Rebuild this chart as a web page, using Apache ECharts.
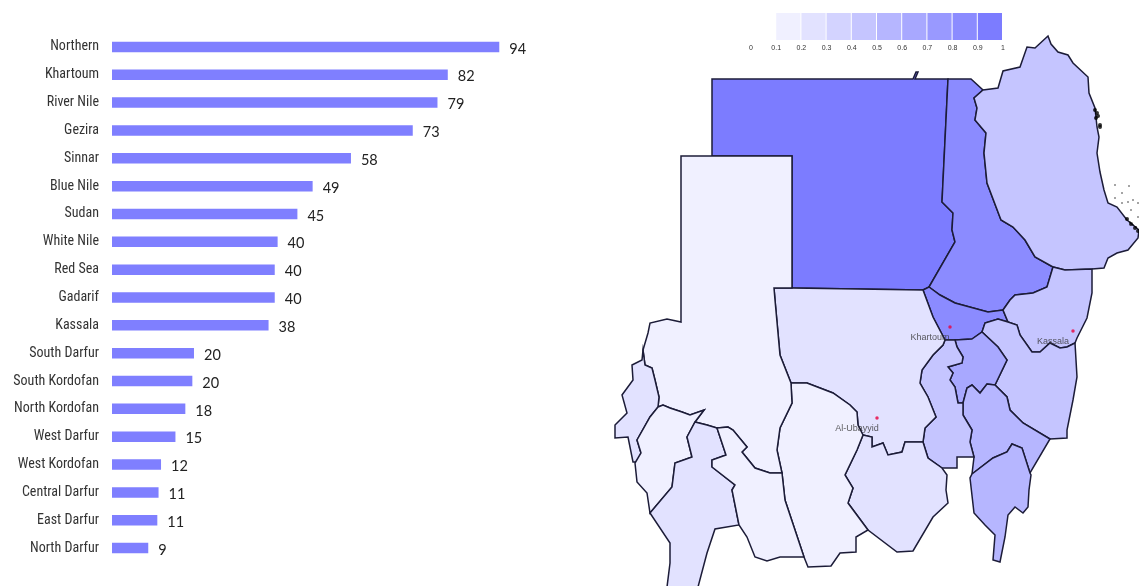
<!DOCTYPE html>
<html><head><meta charset="utf-8">
<style>html,body{margin:0;padding:0;background:#fff}#c{width:1139px;height:586px}</style>
<script src="https://cdn.jsdelivr.net/npm/echarts@6/dist/echarts.min.js"></script>
</head><body><div id="c"></div>
<script>
// Bar chart
const categories = ['Northern','Khartoum','River Nile','Gezira','Sinnar','Blue Nile','Sudan','White Nile','Red Sea','Gadarif','Kassala','South Darfur','South Kordofan','North Kordofan','West Darfur','West Kordofan','Central Darfur','East Darfur','North Darfur'];
const barValues = [94,81.5,79,73,58,48.7,45,40.2,39.5,39.5,38,19.9,19.5,17.8,15.4,11.9,11.3,11,8.8];
// Map legend
const legendTicks = [0,0.1,0.2,0.3,0.4,0.5,0.6,0.7,0.8,0.9,1];
const legendLows = [0.1,0.2,0.3,0.4,0.5,0.6,0.7,0.8,0.9];
const legendColors = ['#f0f0ff','#e2e2ff','#d3d3ff','#c5c5ff','#b6b6ff','#a8a8ff','#9999ff','#8b8bff','#7c7cff'];
// Map regions: value estimated from each region's shade
const regionNames = ['Northern','River Nile','Red Sea','Khartoum','Kassala','Gadarif','Gezira','Sennar','Blue Nile','White Nile','North Kordofan','South Kordofan','West Kordofan','North Darfur','West Darfur','Central Darfur','South Darfur','East Darfur'];
const regionValues = [0.95,0.85,0.45,0.85,0.45,0.45,0.65,0.55,0.5,0.45,0.25,0.25,0.15,0.15,0.25,0.15,0.25,0.15];
// Region outlines
const outlines = {
 'Northern':[[712,79],[913,79],[916,72],[918,72],[915,79],[948,79],[942,202],[953,213],[952,230],[955,242],[929,287],[923,290],[792,288],[792,156],[712,156]],
 'River Nile':[[948,79],[971,79],[983,90],[974,98],[977,108],[975,120],[986,133],[984,153],[987,183],[1001,220],[1013,227],[1025,240],[1035,257],[1053,267],[1047,287],[1033,293],[1015,295],[1010,300],[1003,310],[988,312],[955,303],[940,295],[929,287],[955,242],[952,230],[953,213],[942,202]],
 'Red Sea':[[983,90],[998,88],[1003,71],[1020,67],[1027,47],[1035,48],[1048,36],[1051,44],[1058,52],[1068,55],[1073,63],[1088,77],[1089,93],[1095,108],[1097,127],[1099,137],[1097,153],[1100,172],[1104,190],[1108,203],[1117,207],[1127,220],[1139,230],[1138,238],[1128,250],[1117,253],[1108,258],[1104,268],[1092,269],[1065,270],[1053,267],[1035,257],[1025,240],[1013,227],[1001,220],[987,183],[984,153],[986,133],[975,120],[977,108],[974,98]],
 'Khartoum':[[923,290],[929,287],[940,295],[955,303],[988,312],[1003,310],[1008,322],[998,319],[985,323],[982,332],[972,339],[955,340],[945,340],[933,317]],
 'Kassala':[[1003,310],[1010,300],[1015,295],[1033,293],[1047,287],[1053,267],[1065,270],[1092,269],[1092,293],[1087,318],[1077,338],[1075,343],[1067,347],[1060,348],[1050,343],[1040,352],[1032,352],[1020,335],[1017,325],[1008,322]],
 'Gadarif':[[985,323],[998,319],[1008,322],[1017,325],[1020,335],[1032,352],[1040,352],[1050,343],[1060,348],[1067,347],[1075,343],[1077,377],[1073,400],[1067,430],[1067,438],[1050,439],[1023,423],[1010,410],[1007,397],[995,385],[1007,360],[998,347],[982,332]],
 'Gezira':[[972,339],[982,332],[998,347],[1007,360],[995,385],[987,384],[980,393],[972,385],[967,388],[963,403],[958,403],[955,387],[950,380],[953,373],[948,367],[962,363],[963,357],[957,347],[955,340]],
 'Sennar':[[963,403],[967,388],[972,385],[980,393],[987,384],[995,385],[1007,397],[1010,410],[1023,423],[1050,439],[1030,473],[1022,448],[1012,444],[1007,452],[993,458],[972,474],[974,457],[970,442],[972,430],[963,415]],
 'Blue Nile':[[972,474],[993,458],[1007,452],[1012,444],[1022,448],[1030,473],[1031,475],[1029,490],[1028,507],[1023,513],[1015,507],[1008,515],[1005,537],[1000,562],[993,560],[995,535],[985,525],[974,513],[970,478]],
 'White Nile':[[945,340],[955,340],[957,347],[963,357],[962,363],[948,367],[953,373],[950,380],[955,387],[958,403],[963,403],[963,415],[972,430],[970,442],[974,457],[957,457],[957,468],[942,468],[928,458],[923,442],[925,428],[936,417],[928,397],[920,383],[922,370],[933,355],[943,345]],
 'North Kordofan':[[774,288],[792,288],[923,290],[933,317],[945,340],[943,345],[933,355],[922,370],[920,383],[928,397],[936,417],[925,428],[923,442],[905,442],[902,452],[888,455],[883,443],[872,447],[872,437],[863,435],[858,425],[857,412],[850,405],[833,393],[820,388],[807,383],[791,383],[780,355],[775,300]],
 'South Kordofan':[[863,435],[872,437],[872,447],[883,443],[888,455],[902,452],[905,442],[923,442],[928,458],[942,468],[947,475],[946,490],[948,503],[933,517],[913,551],[897,552],[868,530],[848,503],[853,488],[845,475],[857,450]],
 'West Kordofan':[[791,383],[807,383],[820,388],[833,393],[850,405],[857,412],[858,425],[863,435],[857,450],[845,475],[853,488],[848,503],[868,530],[856,537],[856,552],[840,553],[831,566],[808,567],[804,557],[785,500],[782,473],[777,450],[780,428],[792,403]],
 'North Darfur':[[681,156],[792,156],[792,288],[774,288],[775,300],[780,355],[791,383],[792,403],[780,428],[777,450],[782,473],[770,473],[755,468],[742,452],[747,447],[733,430],[728,427],[717,428],[707,425],[695,422],[704,410],[690,415],[682,412],[670,408],[663,405],[658,407],[659,397],[655,380],[652,368],[645,365],[643,350],[648,333],[650,323],[667,319],[681,322]],
 'West Darfur':[[643,350],[642,360],[632,365],[633,380],[622,395],[627,413],[615,425],[615,438],[628,437],[633,462],[637,462],[641,453],[637,440],[650,417],[658,407],[659,397],[655,380],[652,368],[645,365]],
 'Central Darfur':[[658,407],[663,405],[670,408],[682,412],[690,415],[704,410],[695,422],[687,437],[692,457],[675,463],[672,487],[650,513],[647,493],[637,482],[635,463],[641,453],[637,440],[650,417]],
 'South Darfur':[[695,422],[707,425],[717,428],[726,455],[712,460],[712,467],[735,485],[732,490],[739,525],[715,529],[707,553],[698,587],[667,587],[670,563],[670,543],[650,513],[672,487],[675,463],[692,457],[687,437]],
 'East Darfur':[[717,428],[728,427],[733,430],[747,447],[742,452],[755,468],[770,473],[782,473],[785,500],[804,557],[780,557],[767,561],[755,557],[747,537],[739,525],[732,490],[735,485],[712,467],[712,460],[726,455]]
};
const cityNames = ['Khartoum','Kassala','Al-Ubayyid'];
const cityPoints = [[950,327],[1073,331],[877,418]];
const islets = [[1115,185],[1122,193],[1129,186],[1115,198],[1122,203],[1128,202],[1133,200],[1138,203],[1131,210],[1138,217],[1130,222],[1133,225],[1136,227]];
const reefs = [[1095,110],[1097,113],[1098,116],[1096,118],[1100,125],[1100,127],[1127,219],[1131,224],[1135,228],[1138,231]];

const toGeo = p => [p[0], -p[1]];
const geoJson = {type:'FeatureCollection',features:regionNames.map(n=>({
  type:'Feature',properties:{name:n},
  geometry:{type:'Polygon',coordinates:[outlines[n].concat([outlines[n][0]]).map(toGeo)]}
}))};
echarts.registerMap('sudan',geoJson);

const chart = echarts.init(document.getElementById('c'),null,{renderer:'canvas'});
chart.setOption({
  animation:false,
  backgroundColor:'#fff',
  grid:[
    {left:112,top:33,width:412,height:529,containLabel:false},
    {left:751,top:13,width:252,height:27}
  ],
  xAxis:[
    {gridIndex:0,type:'value',min:0,max:100,show:false},
    {gridIndex:1,type:'value',min:0,max:1,interval:0.1,
     axisLine:{show:false},axisTick:{show:false},splitLine:{show:false},
     axisLabel:{color:'#333',fontSize:7,margin:5,fontFamily:'Liberation Sans',showMinLabel:true,showMaxLabel:true,
       formatter:v=>String(legendTicks[Math.round(v*10)])}}
  ],
  yAxis:[
    {gridIndex:0,type:'category',inverse:true,data:categories,
     axisLine:{show:false},axisTick:{show:false},
     axisLabel:{color:'#333',fontSize:14,margin:13,padding:[6,0,0,0],fontFamily:"'Roboto Condensed','DejaVu Sans Condensed',Roboto"}},
    {gridIndex:1,type:'value',min:0,max:1,show:false}
  ],
  geo:{map:'sudan',roam:false,silent:true,aspectScale:1,
    boundingCoords:[[612,0],[1139,-586]],left:612,top:0,width:527,height:586,
    label:{show:false},
    itemStyle:{borderColor:'#1c1c38',borderWidth:1.5,areaColor:'#fff'},
    emphasis:{disabled:true},select:{disabled:true}},
  visualMap:{type:'piecewise',show:false,seriesIndex:1,dimension:0,
    pieces:legendLows.map((l,i)=>({gte:l,lt:l+0.1+(i===8?0.01:0),color:legendColors[i]}))},
  series:[
    {type:'bar',xAxisIndex:0,yAxisIndex:0,data:barValues,barWidth:10.5,
     itemStyle:{color:'#7f7fff'},silent:true,
     label:{show:true,position:'right',distance:10,offset:[0,2],color:'#222',fontSize:14.5,fontFamily:'Lato',
       formatter:p=>Math.round(p.value)}},
    {type:'map',geoIndex:0,silent:true,
     data:regionNames.map((n,i)=>({name:n,value:regionValues[i]}))},
    {type:'custom',xAxisIndex:1,yAxisIndex:1,silent:true,
     data:legendLows.map(l=>[l,l+0.1]),
     encode:{x:[0,1]},
     renderItem:(params,api)=>{
       const a=api.coord([api.value(0),1]), b=api.coord([api.value(1),0]);
       return {type:'rect',shape:{x:a[0],y:a[1],width:b[0]-a[0]-1,height:b[1]-a[1]},
         style:{fill:legendColors[params.dataIndex]}};
     }},
    {type:'scatter',coordinateSystem:'geo',geoIndex:0,silent:true,symbolSize:3.5,
     itemStyle:{color:'#e8003c'},
     data:cityPoints.map((p,i)=>({name:cityNames[i],value:toGeo(p)})),
     label:{show:true,color:'#333',fontSize:9,fontFamily:'Liberation Sans',
       position:'bottom',distance:3,offset:[-20,1],formatter:p=>p.name}},
    {type:'scatter',coordinateSystem:'geo',geoIndex:0,silent:true,symbolSize:1.6,
     itemStyle:{color:'#000'},data:islets.map(toGeo)},
    {type:'scatter',coordinateSystem:'geo',geoIndex:0,silent:true,symbolSize:4,
     itemStyle:{color:'#000'},data:reefs.map(toGeo)}
  ]
});
</script></body></html>
